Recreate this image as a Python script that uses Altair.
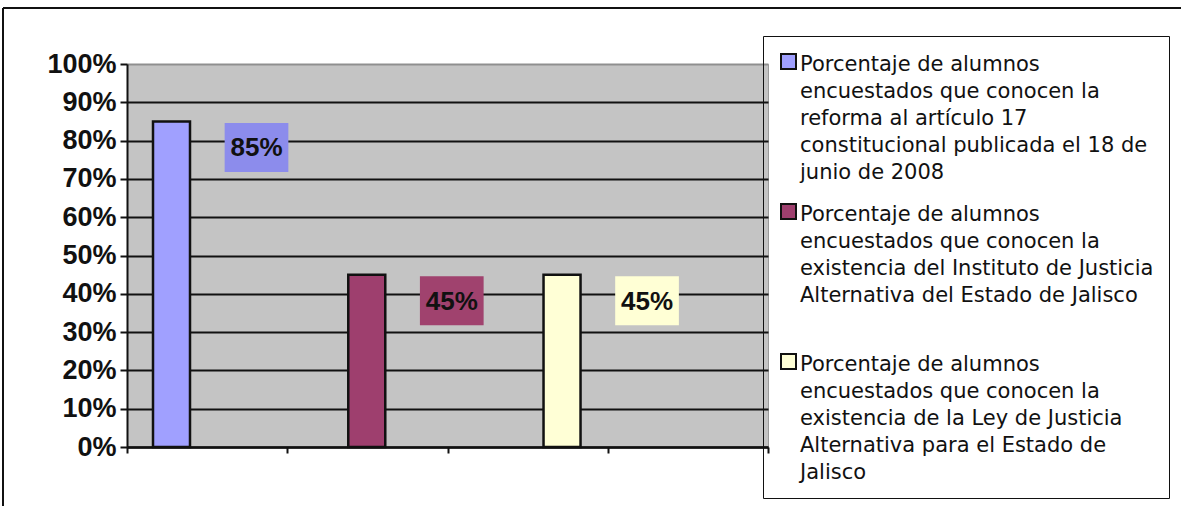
import altair as alt
import pandas as pd

categorias = [
    "Porcentaje de alumnos|encuestados que conocen la|reforma al artículo 17|constitucional publicada el 18 de|junio de 2008",
    "Porcentaje de alumnos|encuestados que conocen la|existencia del Instituto de Justicia|Alternativa del Estado de Jalisco| ",
    "Porcentaje de alumnos|encuestados que conocen la|existencia de la Ley de Justicia|Alternativa para el Estado de|Jalisco",
]
valores = [0.85, 0.45, 0.45]
colores_barra = ["#A0A0FF", "#9E3F6E", "#FFFFD6"]
colores_etiqueta = ["#8C8CEC", "#A0426E", "#FFFFD5"]
y_ticks = [0, 0.1, 0.2, 0.3, 0.4, 0.5, 0.6, 0.7, 0.8, 0.9, 1.0]

df = pd.DataFrame({"categoria": categorias, "valor": valores, "pos": [0] * 3})

base = alt.Chart(df)

y_axis = alt.Axis(
    values=y_ticks,
    tickCount=20,
    format=".0%",
    title=None,
    labelFont="Liberation Sans",
    labelFontWeight="bold",
    labelFontSize=27,
    labelColor="#111111",
    labelPadding=4,
    labelOffset=8,
    labelOverlap=False,
    tickSize=7,
    tickWidth=2,
    tickColor="#111111",
    domainColor="#111111",
    domainWidth=2,
    grid=True,
    gridColor={"condition": {"test": "datum.value >= 1", "value": "#8f8f8f"}, "value": "#111111"},
    gridWidth=2,
)

y_enc = alt.Y("valor:Q", scale=alt.Scale(domain=[0, 1], nice=False), axis=y_axis)

x_enc = alt.X(
    "categoria:N",
    sort=categorias,
    scale=alt.Scale(type="band", paddingInner=0.8105, paddingOuter=0.5466, align=0.1218),
    axis=None,
)

bars = base.mark_bar(stroke="#111111", strokeWidth=2.5).encode(
    x=x_enc,
    y=y_enc,
    color=alt.Color(
        "categoria:N",
        sort=categorias,
        scale=alt.Scale(domain=categorias, range=colores_barra),
        legend=alt.Legend(
            title=None,
            orient="none",
            legendX=636,
            legendY=-28,
            labelExpr="split(datum.label, '|')",
            labelFont="DejaVu Sans",
            labelFontSize=21,
            labelColor="#111111",
            labelLimit=500,
            labelBaseline="top",
            labelOffset=1,
            symbolType="square",
            symbolSize=225,
            symbolStrokeColor="#111111",
            symbolStrokeWidth=2,
            rowPadding=17,
            padding=15,
            strokeColor="#111111",
        ),
    ),
)

boxes = base.mark_point(
    shape="M-1.3,-1H1.3V1H-1.3Z",
    size=2401,
    filled=True,
    opacity=1,
    strokeWidth=0,
    xOffset=85,
    yOffset=26,
).encode(
    x=x_enc,
    y=y_enc,
    fill=alt.Fill(
        "categoria:N",
        sort=categorias,
        scale=alt.Scale(domain=categorias, range=colores_etiqueta),
        legend=None,
    ),
)

texts = base.transform_calculate(
    etiqueta="format(datum.valor, '.0%')"
).mark_text(
    font="Liberation Sans",
    fontWeight="bold",
    fontSize=26,
    color="#111111",
    align="center",
    baseline="middle",
    xOffset=85,
    yOffset=27,
).encode(
    x=x_enc,
    y=y_enc,
    text="etiqueta:N",
)

data_layers = alt.layer(bars, boxes, texts)

xticks = base.mark_rule(opacity=0).encode(
    x=alt.X(
        "pos:Q",
        scale=alt.Scale(domain=[0, 4], nice=False),
        axis=alt.Axis(
            orient="bottom",
            title=None,
            labels=False,
            tickCount=4,
            tickSize=6,
            tickWidth=2,
            tickColor="#111111",
            domainColor="#111111",
            domainWidth=2.5,
            grid=False,
        ),
    ),
)

frame_top = alt.Chart(alt.Data(values=[{}])).mark_rule(color="#111111", strokeWidth=2).encode(
    x=alt.value(-124), x2=alt.value(1060), y=alt.value(-56)
)
frame_left = alt.Chart(alt.Data(values=[{}])).mark_rule(color="#111111", strokeWidth=2).encode(
    x=alt.value(-124), y=alt.value(-56), y2=alt.value(450)
)

chart = (
    alt.layer(xticks, data_layers, frame_top, frame_left)
    .resolve_scale(x="independent")
    .properties(
        width=641,
        height=383,
        padding={"left": 127, "top": 64, "right": 413, "bottom": 59},
        autosize=alt.AutoSizeParams(type="none"),
        background="white",
    )
    .configure_view(fill="#C4C4C4", stroke="#9a9a9a", strokeWidth=1)
    .configure(
        style={
            "guide-label": {"lineHeight": 27, "dy": -8},
            "cell": {"fill": "#C4C4C4", "stroke": "#9a9a9a", "strokeWidth": 1},
        }
    )
)

chart.save("out.html", embed_options={"renderer": "svg", "actions": False})
